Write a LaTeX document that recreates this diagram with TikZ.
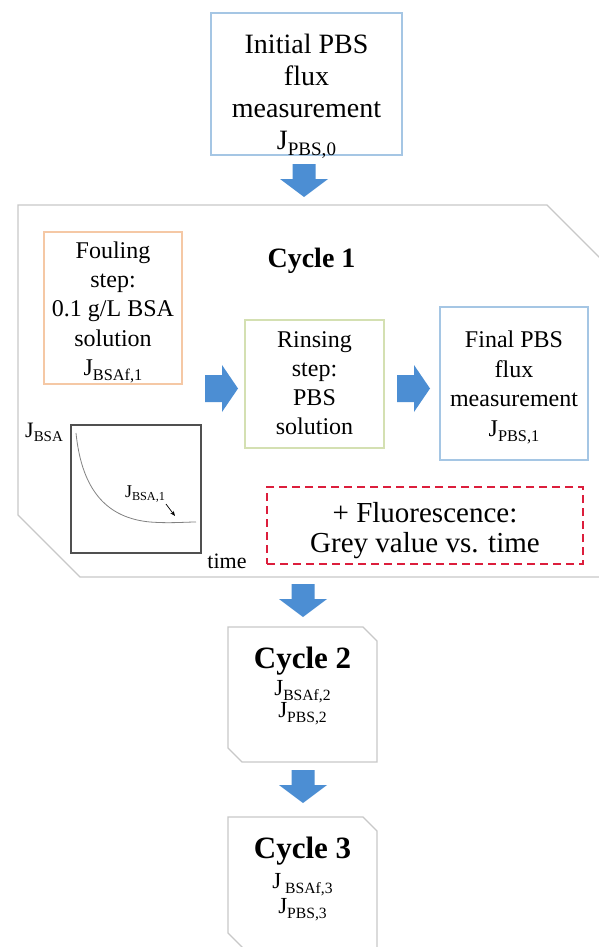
\documentclass[tikz,border=0pt]{standalone}
\usepackage{fontspec}
\setmainfont{Liberation Serif}
\usetikzlibrary{arrows.meta}
\definecolor{boxblue}{RGB}{165,198,228}
\definecolor{boxorange}{RGB}{245,200,165}
\definecolor{boxgreen}{RGB}{212,224,178}
\definecolor{cycgray}{RGB}{200,200,200}
\definecolor{arrowblue}{RGB}{76,142,211}
\definecolor{dashred}{RGB}{220,30,60}
\definecolor{graphgray}{RGB}{80,80,80}
\definecolor{curvegray}{RGB}{130,130,130}
\makeatletter
\newcommand{\lowsub}[1]{\raisebox{-0.22em}{\fontsize{\strip@pt\dimexpr0.68\dimexpr\f@size pt\relax\relax}{1pt}\selectfont #1}}
\makeatother
\tikzset{
  stepbox/.style={draw=#1, line width=1.2pt, inner sep=0pt, fill=white},
  txt/.style={inner sep=0pt, align=center, anchor=north},
  basetxt/.style={inner sep=0pt, anchor=base},
  cyc/.style={draw=cycgray, line width=1.4pt, fill=white},
  downarr/.pic={\fill[arrowblue] (-11.5,0) -- (11.5,0) -- (11.5,15) -- (24,15) -- (0,33) -- (-24,15) -- (-11.5,15) -- cycle;},
  rightarr/.pic={\fill[arrowblue] (0,-13.5) -- (17,-13.5) -- (17,-23.5) -- (33,0) -- (17,23.5) -- (17,13.5) -- (0,13.5) -- cycle;},
}
\begin{document}
\begin{tikzpicture}[x=1pt,y=-1pt]
\clip (0,0) rectangle (599,947);
\fill[white] (0,0) rectangle (599,947);

% initial box
\node[stepbox=boxblue, minimum width=191pt, minimum height=142pt] (init) at (306.5,84) {};
\node[txt, font=\fontsize{28}{32}\selectfont] (initT) at (306.5,34) {Initial PBS\\flux\\measurement\\J\lowsub{PBS,0}};
\pic at (304,164) {downarr};

% cycle 1 frame
\draw[cyc] (18,205) -- (547,205) -- (611,269) -- (611,577) -- (80,577) -- (18,515) -- cycle;
\node[basetxt, font=\bfseries\fontsize{28}{32}\selectfont] (c1T) at (311.5,267) {Cycle 1};

% fouling
\node[stepbox=boxorange, minimum width=138pt, minimum height=152pt] (foul) at (113,308) {};
\node[txt, font=\fontsize{24}{29.3}\selectfont] (foulT) at (113,241.5) {Fouling\\step:\\0.1 g/L BSA\\solution\\J\lowsub{BSAf,1}};

% rinsing
\node[stepbox=boxgreen, minimum width=139pt, minimum height=128pt] (rinse) at (314.5,384) {};
\node[txt, font=\fontsize{24}{29}\selectfont] (rinseT) at (314.5,331) {Rinsing\\step:\\PBS\\solution};

% final
\node[stepbox=boxblue, minimum width=148pt, minimum height=153pt] (final) at (514,383.5) {};
\node[txt, font=\fontsize{24}{29.5}\selectfont] (finalT) at (514,331) {Final PBS\\flux\\measurement\\J\lowsub{PBS,1}};

\pic at (205,388.5) {rightarr};
\pic at (397,388.5) {rightarr};

% graph
\node[draw=graphgray, line width=1.3pt, minimum width=130pt, minimum height=128pt, inner sep=0pt] (graph) at (136,489) {};
\draw[curvegray, line width=0.8pt] (76,433) .. controls (82,492) and (108,518) .. (150,522) .. controls (170,523.5) and (185,522) .. (196,522);
\node[basetxt, font=\fontsize{18}{18}\selectfont] (jlab) at (145,497) {J\lowsub{BSA,1}};
\coordinate (ja) at (166,504);
\coordinate (jb) at (175,516);
\draw[line width=0.7pt, -{Stealth[length=5pt,width=4pt]}] (ja) -- (jb);
\node[basetxt, anchor=base west, font=\fontsize{22}{22}\selectfont] (jbsa) at (25,437) {J\lowsub{BSA}};
\node[basetxt, font=\fontsize{22}{22}\selectfont] (timeT) at (227,568) {time};

% fluorescence
\node[draw=dashred, line width=2.2pt, dash pattern=on 8pt off 5pt, minimum width=316pt, minimum height=77pt, inner sep=0pt] (fluor) at (425,525.5) {};
\node[txt, font=\fontsize{29}{30}\selectfont] (fluorT) at (425,502) {+ Fluorescence:\\Grey value vs. time};

\pic at (303,584) {downarr};

% cycle 2
\draw[cyc] (228,627) -- (363,627) -- (377,641) -- (377,762) -- (242,762) -- (228,748) -- cycle;
\node[basetxt, font=\bfseries\fontsize{31}{32}\selectfont] (c2T) at (302.5,668) {Cycle 2};
\node[basetxt, font=\fontsize{23}{24}\selectfont] (c2a) at (302.5,695) {J\lowsub{BSAf,2}};
\node[basetxt, font=\fontsize{23}{24}\selectfont] (c2b) at (302.5,717) {J\lowsub{PBS,2}};

\pic at (303,770) {downarr};

% cycle 3
\draw[cyc] (228,817) -- (363,817) -- (377,831) -- (377,952) -- (247,952) -- (228,933) -- cycle;
\node[basetxt, font=\bfseries\fontsize{31}{32}\selectfont] (c3T) at (302.5,858) {Cycle 3};
\node[basetxt, font=\fontsize{23}{24}\selectfont] (c3a) at (302.5,888) {J\,\lowsub{BSAf,3}};
\node[basetxt, font=\fontsize{23}{24}\selectfont] (c3b) at (302.5,913) {J\lowsub{PBS,3}};
\end{tikzpicture}
\end{document}
